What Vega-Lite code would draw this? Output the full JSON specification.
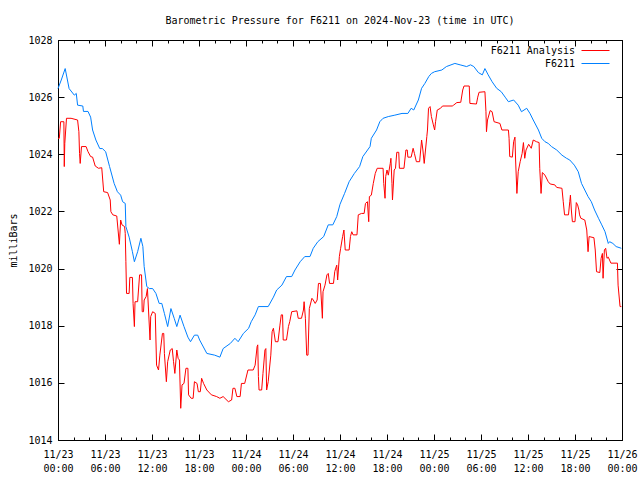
{
  "$schema": "https://vega.github.io/schema/vega-lite/v6.json",
  "width": 564,
  "height": 400,
  "autosize": "none",
  "padding": {"left": 58, "top": 40, "right": 18, "bottom": 40},
  "background": "white",
  "title": {"text": "Barometric Pressure for F6211 on 2024-Nov-23 (time in UTC)", "font": "DejaVu Sans Mono", "fontSize": 10, "fontWeight": "normal", "color": "black", "anchor": "middle", "offset": 9},
  "config": {
    "view": {"stroke": "black", "strokeWidth": 1},
    "axis": {"labelFont": "DejaVu Sans Mono", "labelFontSize": 10, "labelColor": "black", "titleFont": "DejaVu Sans Mono", "titleFontSize": 10, "titleFontWeight": "normal", "titleColor": "black", "domainColor": "black", "tickColor": "black", "grid": false},
    "legend": {"labelFont": "DejaVu Sans Mono", "labelFontSize": 10, "labelColor": "black"}
  },
  "datasets": {
    "d": [
      {"t": "2024-11-23T00:00Z", "v": 1026.3, "s": "F6211"},
      {"t": "2024-11-23T00:25Z", "v": 1026.6, "s": "F6211"},
      {"t": "2024-11-23T00:55Z", "v": 1027.0, "s": "F6211"},
      {"t": "2024-11-23T01:25Z", "v": 1026.3, "s": "F6211"},
      {"t": "2024-11-23T02:05Z", "v": 1026.07, "s": "F6211"},
      {"t": "2024-11-23T02:20Z", "v": 1026.13, "s": "F6211"},
      {"t": "2024-11-23T02:30Z", "v": 1025.72, "s": "F6211"},
      {"t": "2024-11-23T03:10Z", "v": 1025.69, "s": "F6211"},
      {"t": "2024-11-23T03:15Z", "v": 1025.5, "s": "F6211"},
      {"t": "2024-11-23T03:50Z", "v": 1025.5, "s": "F6211"},
      {"t": "2024-11-23T04:10Z", "v": 1025.3, "s": "F6211"},
      {"t": "2024-11-23T04:25Z", "v": 1024.85, "s": "F6211"},
      {"t": "2024-11-23T04:50Z", "v": 1024.5, "s": "F6211"},
      {"t": "2024-11-23T05:20Z", "v": 1024.2, "s": "F6211"},
      {"t": "2024-11-23T05:40Z", "v": 1024.2, "s": "F6211"},
      {"t": "2024-11-23T06:05Z", "v": 1024.09, "s": "F6211"},
      {"t": "2024-11-23T06:35Z", "v": 1023.57, "s": "F6211"},
      {"t": "2024-11-23T07:10Z", "v": 1022.98, "s": "F6211"},
      {"t": "2024-11-23T07:35Z", "v": 1022.69, "s": "F6211"},
      {"t": "2024-11-23T08:00Z", "v": 1022.57, "s": "F6211"},
      {"t": "2024-11-23T08:15Z", "v": 1022.34, "s": "F6211"},
      {"t": "2024-11-23T08:35Z", "v": 1022.28, "s": "F6211"},
      {"t": "2024-11-23T08:40Z", "v": 1021.47, "s": "F6211"},
      {"t": "2024-11-23T09:05Z", "v": 1021.1, "s": "F6211"},
      {"t": "2024-11-23T09:30Z", "v": 1020.59, "s": "F6211"},
      {"t": "2024-11-23T09:45Z", "v": 1020.24, "s": "F6211"},
      {"t": "2024-11-23T10:10Z", "v": 1020.59, "s": "F6211"},
      {"t": "2024-11-23T10:35Z", "v": 1021.06, "s": "F6211"},
      {"t": "2024-11-23T10:50Z", "v": 1020.77, "s": "F6211"},
      {"t": "2024-11-23T11:00Z", "v": 1020.07, "s": "F6211"},
      {"t": "2024-11-23T11:20Z", "v": 1019.37, "s": "F6211"},
      {"t": "2024-11-23T11:40Z", "v": 1019.3, "s": "F6211"},
      {"t": "2024-11-23T12:05Z", "v": 1019.3, "s": "F6211"},
      {"t": "2024-11-23T12:30Z", "v": 1019.13, "s": "F6211"},
      {"t": "2024-11-23T12:55Z", "v": 1018.78, "s": "F6211"},
      {"t": "2024-11-23T13:15Z", "v": 1018.78, "s": "F6211"},
      {"t": "2024-11-23T13:35Z", "v": 1018.43, "s": "F6211"},
      {"t": "2024-11-23T14:00Z", "v": 1017.97, "s": "F6211"},
      {"t": "2024-11-23T14:25Z", "v": 1018.6, "s": "F6211"},
      {"t": "2024-11-23T14:50Z", "v": 1018.26, "s": "F6211"},
      {"t": "2024-11-23T15:10Z", "v": 1017.97, "s": "F6211"},
      {"t": "2024-11-23T15:35Z", "v": 1018.37, "s": "F6211"},
      {"t": "2024-11-23T16:05Z", "v": 1017.97, "s": "F6211"},
      {"t": "2024-11-23T16:35Z", "v": 1017.6, "s": "F6211"},
      {"t": "2024-11-23T16:55Z", "v": 1017.44, "s": "F6211"},
      {"t": "2024-11-23T17:25Z", "v": 1017.67, "s": "F6211"},
      {"t": "2024-11-23T17:50Z", "v": 1017.67, "s": "F6211"},
      {"t": "2024-11-23T18:05Z", "v": 1017.5, "s": "F6211"},
      {"t": "2024-11-23T19:00Z", "v": 1017.03, "s": "F6211"},
      {"t": "2024-11-23T20:00Z", "v": 1016.97, "s": "F6211"},
      {"t": "2024-11-23T20:40Z", "v": 1016.9, "s": "F6211"},
      {"t": "2024-11-23T21:05Z", "v": 1017.2, "s": "F6211"},
      {"t": "2024-11-23T22:00Z", "v": 1017.38, "s": "F6211"},
      {"t": "2024-11-23T22:35Z", "v": 1017.56, "s": "F6211"},
      {"t": "2024-11-23T23:00Z", "v": 1017.44, "s": "F6211"},
      {"t": "2024-11-23T23:40Z", "v": 1017.73, "s": "F6211"},
      {"t": "2024-11-24T00:20Z", "v": 1017.91, "s": "F6211"},
      {"t": "2024-11-24T00:40Z", "v": 1018.14, "s": "F6211"},
      {"t": "2024-11-24T01:10Z", "v": 1018.38, "s": "F6211"},
      {"t": "2024-11-24T01:35Z", "v": 1018.67, "s": "F6211"},
      {"t": "2024-11-24T02:50Z", "v": 1018.67, "s": "F6211"},
      {"t": "2024-11-24T03:30Z", "v": 1019.0, "s": "F6211"},
      {"t": "2024-11-24T03:55Z", "v": 1019.25, "s": "F6211"},
      {"t": "2024-11-24T04:35Z", "v": 1019.42, "s": "F6211"},
      {"t": "2024-11-24T05:10Z", "v": 1019.72, "s": "F6211"},
      {"t": "2024-11-24T05:50Z", "v": 1019.72, "s": "F6211"},
      {"t": "2024-11-24T06:15Z", "v": 1019.95, "s": "F6211"},
      {"t": "2024-11-24T06:55Z", "v": 1020.24, "s": "F6211"},
      {"t": "2024-11-24T07:30Z", "v": 1020.42, "s": "F6211"},
      {"t": "2024-11-24T08:10Z", "v": 1020.42, "s": "F6211"},
      {"t": "2024-11-24T08:35Z", "v": 1020.71, "s": "F6211"},
      {"t": "2024-11-24T09:10Z", "v": 1020.94, "s": "F6211"},
      {"t": "2024-11-24T09:55Z", "v": 1021.12, "s": "F6211"},
      {"t": "2024-11-24T10:30Z", "v": 1021.53, "s": "F6211"},
      {"t": "2024-11-24T11:05Z", "v": 1021.53, "s": "F6211"},
      {"t": "2024-11-24T11:35Z", "v": 1021.82, "s": "F6211"},
      {"t": "2024-11-24T12:00Z", "v": 1022.25, "s": "F6211"},
      {"t": "2024-11-24T12:35Z", "v": 1022.63, "s": "F6211"},
      {"t": "2024-11-24T13:10Z", "v": 1023.04, "s": "F6211"},
      {"t": "2024-11-24T13:50Z", "v": 1023.33, "s": "F6211"},
      {"t": "2024-11-24T14:30Z", "v": 1023.57, "s": "F6211"},
      {"t": "2024-11-24T14:55Z", "v": 1023.92, "s": "F6211"},
      {"t": "2024-11-24T15:50Z", "v": 1024.27, "s": "F6211"},
      {"t": "2024-11-24T16:00Z", "v": 1024.56, "s": "F6211"},
      {"t": "2024-11-24T16:40Z", "v": 1024.85, "s": "F6211"},
      {"t": "2024-11-24T17:05Z", "v": 1025.14, "s": "F6211"},
      {"t": "2024-11-24T17:30Z", "v": 1025.26, "s": "F6211"},
      {"t": "2024-11-24T18:10Z", "v": 1025.32, "s": "F6211"},
      {"t": "2024-11-24T19:00Z", "v": 1025.37, "s": "F6211"},
      {"t": "2024-11-24T19:55Z", "v": 1025.43, "s": "F6211"},
      {"t": "2024-11-24T20:40Z", "v": 1025.43, "s": "F6211"},
      {"t": "2024-11-24T21:05Z", "v": 1025.61, "s": "F6211"},
      {"t": "2024-11-24T21:25Z", "v": 1025.55, "s": "F6211"},
      {"t": "2024-11-24T22:00Z", "v": 1025.9, "s": "F6211"},
      {"t": "2024-11-24T22:25Z", "v": 1026.31, "s": "F6211"},
      {"t": "2024-11-24T22:50Z", "v": 1026.48, "s": "F6211"},
      {"t": "2024-11-24T23:20Z", "v": 1026.72, "s": "F6211"},
      {"t": "2024-11-24T23:40Z", "v": 1026.83, "s": "F6211"},
      {"t": "2024-11-25T00:05Z", "v": 1026.89, "s": "F6211"},
      {"t": "2024-11-25T01:00Z", "v": 1026.95, "s": "F6211"},
      {"t": "2024-11-25T01:35Z", "v": 1027.07, "s": "F6211"},
      {"t": "2024-11-25T02:40Z", "v": 1027.18, "s": "F6211"},
      {"t": "2024-11-25T03:20Z", "v": 1027.13, "s": "F6211"},
      {"t": "2024-11-25T04:10Z", "v": 1027.07, "s": "F6211"},
      {"t": "2024-11-25T04:40Z", "v": 1027.13, "s": "F6211"},
      {"t": "2024-11-25T05:05Z", "v": 1027.07, "s": "F6211"},
      {"t": "2024-11-25T05:40Z", "v": 1026.86, "s": "F6211"},
      {"t": "2024-11-25T06:10Z", "v": 1026.78, "s": "F6211"},
      {"t": "2024-11-25T06:30Z", "v": 1027.0, "s": "F6211"},
      {"t": "2024-11-25T06:55Z", "v": 1026.78, "s": "F6211"},
      {"t": "2024-11-25T07:25Z", "v": 1026.54, "s": "F6211"},
      {"t": "2024-11-25T08:00Z", "v": 1026.31, "s": "F6211"},
      {"t": "2024-11-25T08:35Z", "v": 1026.19, "s": "F6211"},
      {"t": "2024-11-25T09:05Z", "v": 1026.0, "s": "F6211"},
      {"t": "2024-11-25T09:30Z", "v": 1025.84, "s": "F6211"},
      {"t": "2024-11-25T10:10Z", "v": 1025.9, "s": "F6211"},
      {"t": "2024-11-25T10:45Z", "v": 1025.72, "s": "F6211"},
      {"t": "2024-11-25T11:10Z", "v": 1025.49, "s": "F6211"},
      {"t": "2024-11-25T11:50Z", "v": 1025.61, "s": "F6211"},
      {"t": "2024-11-25T12:15Z", "v": 1025.43, "s": "F6211"},
      {"t": "2024-11-25T12:40Z", "v": 1025.2, "s": "F6211"},
      {"t": "2024-11-25T13:20Z", "v": 1024.85, "s": "F6211"},
      {"t": "2024-11-25T13:45Z", "v": 1024.56, "s": "F6211"},
      {"t": "2024-11-25T14:10Z", "v": 1024.44, "s": "F6211"},
      {"t": "2024-11-25T14:35Z", "v": 1024.38, "s": "F6211"},
      {"t": "2024-11-25T15:00Z", "v": 1024.27, "s": "F6211"},
      {"t": "2024-11-25T15:40Z", "v": 1024.15, "s": "F6211"},
      {"t": "2024-11-25T16:20Z", "v": 1023.97, "s": "F6211"},
      {"t": "2024-11-25T16:55Z", "v": 1023.86, "s": "F6211"},
      {"t": "2024-11-25T17:20Z", "v": 1023.8, "s": "F6211"},
      {"t": "2024-11-25T17:55Z", "v": 1023.62, "s": "F6211"},
      {"t": "2024-11-25T18:25Z", "v": 1023.39, "s": "F6211"},
      {"t": "2024-11-25T18:50Z", "v": 1022.98, "s": "F6211"},
      {"t": "2024-11-25T19:15Z", "v": 1022.75, "s": "F6211"},
      {"t": "2024-11-25T19:40Z", "v": 1022.52, "s": "F6211"},
      {"t": "2024-11-25T20:05Z", "v": 1022.34, "s": "F6211"},
      {"t": "2024-11-25T20:30Z", "v": 1022.05, "s": "F6211"},
      {"t": "2024-11-25T21:00Z", "v": 1021.76, "s": "F6211"},
      {"t": "2024-11-25T21:25Z", "v": 1021.53, "s": "F6211"},
      {"t": "2024-11-25T21:50Z", "v": 1021.29, "s": "F6211"},
      {"t": "2024-11-25T22:15Z", "v": 1020.88, "s": "F6211"},
      {"t": "2024-11-25T22:25Z", "v": 1020.94, "s": "F6211"},
      {"t": "2024-11-25T22:50Z", "v": 1020.88, "s": "F6211"},
      {"t": "2024-11-25T23:15Z", "v": 1020.77, "s": "F6211"},
      {"t": "2024-11-25T23:55Z", "v": 1020.71, "s": "F6211"},
      {"t": "2024-11-23T00:00Z", "v": 1024.56, "s": "F6211 Analysis"},
      {"t": "2024-11-23T00:10Z", "v": 1024.56, "s": "F6211 Analysis"},
      {"t": "2024-11-23T00:20Z", "v": 1025.14, "s": "F6211 Analysis"},
      {"t": "2024-11-23T00:45Z", "v": 1025.14, "s": "F6211 Analysis"},
      {"t": "2024-11-23T00:48Z", "v": 1023.57, "s": "F6211 Analysis"},
      {"t": "2024-11-23T00:52Z", "v": 1024.38, "s": "F6211 Analysis"},
      {"t": "2024-11-23T01:05Z", "v": 1025.26, "s": "F6211 Analysis"},
      {"t": "2024-11-23T01:40Z", "v": 1025.26, "s": "F6211 Analysis"},
      {"t": "2024-11-23T02:30Z", "v": 1025.2, "s": "F6211 Analysis"},
      {"t": "2024-11-23T02:40Z", "v": 1024.79, "s": "F6211 Analysis"},
      {"t": "2024-11-23T02:45Z", "v": 1024.03, "s": "F6211 Analysis"},
      {"t": "2024-11-23T02:50Z", "v": 1023.68, "s": "F6211 Analysis"},
      {"t": "2024-11-23T03:00Z", "v": 1024.27, "s": "F6211 Analysis"},
      {"t": "2024-11-23T03:35Z", "v": 1024.27, "s": "F6211 Analysis"},
      {"t": "2024-11-23T03:50Z", "v": 1024.09, "s": "F6211 Analysis"},
      {"t": "2024-11-23T04:10Z", "v": 1023.92, "s": "F6211 Analysis"},
      {"t": "2024-11-23T04:25Z", "v": 1023.9, "s": "F6211 Analysis"},
      {"t": "2024-11-23T04:45Z", "v": 1023.59, "s": "F6211 Analysis"},
      {"t": "2024-11-23T05:10Z", "v": 1023.51, "s": "F6211 Analysis"},
      {"t": "2024-11-23T05:35Z", "v": 1023.53, "s": "F6211 Analysis"},
      {"t": "2024-11-23T05:50Z", "v": 1022.69, "s": "F6211 Analysis"},
      {"t": "2024-11-23T06:20Z", "v": 1022.66, "s": "F6211 Analysis"},
      {"t": "2024-11-23T06:40Z", "v": 1022.4, "s": "F6211 Analysis"},
      {"t": "2024-11-23T06:45Z", "v": 1021.99, "s": "F6211 Analysis"},
      {"t": "2024-11-23T07:00Z", "v": 1021.88, "s": "F6211 Analysis"},
      {"t": "2024-11-23T07:30Z", "v": 1021.84, "s": "F6211 Analysis"},
      {"t": "2024-11-23T07:40Z", "v": 1021.35, "s": "F6211 Analysis"},
      {"t": "2024-11-23T07:50Z", "v": 1020.85, "s": "F6211 Analysis"},
      {"t": "2024-11-23T08:00Z", "v": 1021.7, "s": "F6211 Analysis"},
      {"t": "2024-11-23T08:10Z", "v": 1021.53, "s": "F6211 Analysis"},
      {"t": "2024-11-23T08:30Z", "v": 1021.47, "s": "F6211 Analysis"},
      {"t": "2024-11-23T08:35Z", "v": 1021.23, "s": "F6211 Analysis"},
      {"t": "2024-11-23T08:40Z", "v": 1020.24, "s": "F6211 Analysis"},
      {"t": "2024-11-23T08:45Z", "v": 1019.13, "s": "F6211 Analysis"},
      {"t": "2024-11-23T09:05Z", "v": 1019.13, "s": "F6211 Analysis"},
      {"t": "2024-11-23T09:10Z", "v": 1019.69, "s": "F6211 Analysis"},
      {"t": "2024-11-23T09:30Z", "v": 1019.69, "s": "F6211 Analysis"},
      {"t": "2024-11-23T09:35Z", "v": 1018.78, "s": "F6211 Analysis"},
      {"t": "2024-11-23T09:45Z", "v": 1017.97, "s": "F6211 Analysis"},
      {"t": "2024-11-23T09:50Z", "v": 1018.84, "s": "F6211 Analysis"},
      {"t": "2024-11-23T10:10Z", "v": 1018.84, "s": "F6211 Analysis"},
      {"t": "2024-11-23T10:25Z", "v": 1019.78, "s": "F6211 Analysis"},
      {"t": "2024-11-23T10:40Z", "v": 1019.78, "s": "F6211 Analysis"},
      {"t": "2024-11-23T10:45Z", "v": 1018.49, "s": "F6211 Analysis"},
      {"t": "2024-11-23T10:55Z", "v": 1018.49, "s": "F6211 Analysis"},
      {"t": "2024-11-23T11:00Z", "v": 1018.9, "s": "F6211 Analysis"},
      {"t": "2024-11-23T11:15Z", "v": 1019.02, "s": "F6211 Analysis"},
      {"t": "2024-11-23T11:25Z", "v": 1019.3, "s": "F6211 Analysis"},
      {"t": "2024-11-23T11:45Z", "v": 1017.5, "s": "F6211 Analysis"},
      {"t": "2024-11-23T11:50Z", "v": 1018.32, "s": "F6211 Analysis"},
      {"t": "2024-11-23T12:05Z", "v": 1018.49, "s": "F6211 Analysis"},
      {"t": "2024-11-23T12:25Z", "v": 1018.43, "s": "F6211 Analysis"},
      {"t": "2024-11-23T12:35Z", "v": 1016.62, "s": "F6211 Analysis"},
      {"t": "2024-11-23T12:50Z", "v": 1016.45, "s": "F6211 Analysis"},
      {"t": "2024-11-23T13:00Z", "v": 1016.97, "s": "F6211 Analysis"},
      {"t": "2024-11-23T13:20Z", "v": 1017.73, "s": "F6211 Analysis"},
      {"t": "2024-11-23T13:30Z", "v": 1017.73, "s": "F6211 Analysis"},
      {"t": "2024-11-23T13:35Z", "v": 1017.03, "s": "F6211 Analysis"},
      {"t": "2024-11-23T13:50Z", "v": 1016.04, "s": "F6211 Analysis"},
      {"t": "2024-11-23T14:00Z", "v": 1016.74, "s": "F6211 Analysis"},
      {"t": "2024-11-23T14:20Z", "v": 1017.15, "s": "F6211 Analysis"},
      {"t": "2024-11-23T14:35Z", "v": 1017.2, "s": "F6211 Analysis"},
      {"t": "2024-11-23T14:45Z", "v": 1016.74, "s": "F6211 Analysis"},
      {"t": "2024-11-23T14:55Z", "v": 1016.33, "s": "F6211 Analysis"},
      {"t": "2024-11-23T15:10Z", "v": 1017.15, "s": "F6211 Analysis"},
      {"t": "2024-11-23T15:20Z", "v": 1016.86, "s": "F6211 Analysis"},
      {"t": "2024-11-23T15:30Z", "v": 1016.8, "s": "F6211 Analysis"},
      {"t": "2024-11-23T15:40Z", "v": 1015.11, "s": "F6211 Analysis"},
      {"t": "2024-11-23T15:50Z", "v": 1015.93, "s": "F6211 Analysis"},
      {"t": "2024-11-23T16:05Z", "v": 1015.98, "s": "F6211 Analysis"},
      {"t": "2024-11-23T16:20Z", "v": 1016.51, "s": "F6211 Analysis"},
      {"t": "2024-11-23T16:35Z", "v": 1016.51, "s": "F6211 Analysis"},
      {"t": "2024-11-23T16:40Z", "v": 1015.58, "s": "F6211 Analysis"},
      {"t": "2024-11-23T17:00Z", "v": 1015.46, "s": "F6211 Analysis"},
      {"t": "2024-11-23T17:15Z", "v": 1015.46, "s": "F6211 Analysis"},
      {"t": "2024-11-23T17:25Z", "v": 1016.04, "s": "F6211 Analysis"},
      {"t": "2024-11-23T17:45Z", "v": 1015.98, "s": "F6211 Analysis"},
      {"t": "2024-11-23T17:55Z", "v": 1015.69, "s": "F6211 Analysis"},
      {"t": "2024-11-23T18:10Z", "v": 1015.69, "s": "F6211 Analysis"},
      {"t": "2024-11-23T18:20Z", "v": 1016.16, "s": "F6211 Analysis"},
      {"t": "2024-11-23T18:35Z", "v": 1015.98, "s": "F6211 Analysis"},
      {"t": "2024-11-23T19:00Z", "v": 1015.75, "s": "F6211 Analysis"},
      {"t": "2024-11-23T19:35Z", "v": 1015.58, "s": "F6211 Analysis"},
      {"t": "2024-11-23T20:15Z", "v": 1015.52, "s": "F6211 Analysis"},
      {"t": "2024-11-23T20:40Z", "v": 1015.46, "s": "F6211 Analysis"},
      {"t": "2024-11-23T21:05Z", "v": 1015.52, "s": "F6211 Analysis"},
      {"t": "2024-11-23T21:45Z", "v": 1015.34, "s": "F6211 Analysis"},
      {"t": "2024-11-23T22:10Z", "v": 1015.4, "s": "F6211 Analysis"},
      {"t": "2024-11-23T22:20Z", "v": 1015.81, "s": "F6211 Analysis"},
      {"t": "2024-11-23T22:35Z", "v": 1015.81, "s": "F6211 Analysis"},
      {"t": "2024-11-23T22:50Z", "v": 1015.52, "s": "F6211 Analysis"},
      {"t": "2024-11-23T23:15Z", "v": 1015.52, "s": "F6211 Analysis"},
      {"t": "2024-11-23T23:25Z", "v": 1015.98, "s": "F6211 Analysis"},
      {"t": "2024-11-23T23:50Z", "v": 1015.98, "s": "F6211 Analysis"},
      {"t": "2024-11-24T00:15Z", "v": 1016.45, "s": "F6211 Analysis"},
      {"t": "2024-11-24T00:55Z", "v": 1016.45, "s": "F6211 Analysis"},
      {"t": "2024-11-24T01:10Z", "v": 1016.62, "s": "F6211 Analysis"},
      {"t": "2024-11-24T01:25Z", "v": 1017.27, "s": "F6211 Analysis"},
      {"t": "2024-11-24T01:30Z", "v": 1017.33, "s": "F6211 Analysis"},
      {"t": "2024-11-24T01:35Z", "v": 1016.22, "s": "F6211 Analysis"},
      {"t": "2024-11-24T01:40Z", "v": 1015.75, "s": "F6211 Analysis"},
      {"t": "2024-11-24T02:00Z", "v": 1015.75, "s": "F6211 Analysis"},
      {"t": "2024-11-24T02:10Z", "v": 1016.33, "s": "F6211 Analysis"},
      {"t": "2024-11-24T02:25Z", "v": 1017.15, "s": "F6211 Analysis"},
      {"t": "2024-11-24T02:32Z", "v": 1017.2, "s": "F6211 Analysis"},
      {"t": "2024-11-24T02:38Z", "v": 1015.75, "s": "F6211 Analysis"},
      {"t": "2024-11-24T02:50Z", "v": 1016.04, "s": "F6211 Analysis"},
      {"t": "2024-11-24T03:10Z", "v": 1016.97, "s": "F6211 Analysis"},
      {"t": "2024-11-24T03:20Z", "v": 1017.79, "s": "F6211 Analysis"},
      {"t": "2024-11-24T03:30Z", "v": 1017.91, "s": "F6211 Analysis"},
      {"t": "2024-11-24T03:45Z", "v": 1017.44, "s": "F6211 Analysis"},
      {"t": "2024-11-24T04:05Z", "v": 1017.44, "s": "F6211 Analysis"},
      {"t": "2024-11-24T04:20Z", "v": 1018.02, "s": "F6211 Analysis"},
      {"t": "2024-11-24T04:30Z", "v": 1018.38, "s": "F6211 Analysis"},
      {"t": "2024-11-24T04:40Z", "v": 1018.38, "s": "F6211 Analysis"},
      {"t": "2024-11-24T04:45Z", "v": 1017.5, "s": "F6211 Analysis"},
      {"t": "2024-11-24T05:10Z", "v": 1017.5, "s": "F6211 Analysis"},
      {"t": "2024-11-24T05:25Z", "v": 1017.97, "s": "F6211 Analysis"},
      {"t": "2024-11-24T05:35Z", "v": 1018.14, "s": "F6211 Analysis"},
      {"t": "2024-11-24T05:50Z", "v": 1018.49, "s": "F6211 Analysis"},
      {"t": "2024-11-24T06:30Z", "v": 1018.52, "s": "F6211 Analysis"},
      {"t": "2024-11-24T06:40Z", "v": 1018.26, "s": "F6211 Analysis"},
      {"t": "2024-11-24T07:05Z", "v": 1018.26, "s": "F6211 Analysis"},
      {"t": "2024-11-24T07:20Z", "v": 1018.55, "s": "F6211 Analysis"},
      {"t": "2024-11-24T07:25Z", "v": 1018.84, "s": "F6211 Analysis"},
      {"t": "2024-11-24T07:35Z", "v": 1018.26, "s": "F6211 Analysis"},
      {"t": "2024-11-24T07:45Z", "v": 1016.97, "s": "F6211 Analysis"},
      {"t": "2024-11-24T07:55Z", "v": 1016.97, "s": "F6211 Analysis"},
      {"t": "2024-11-24T08:05Z", "v": 1018.6, "s": "F6211 Analysis"},
      {"t": "2024-11-24T08:25Z", "v": 1018.96, "s": "F6211 Analysis"},
      {"t": "2024-11-24T08:35Z", "v": 1018.9, "s": "F6211 Analysis"},
      {"t": "2024-11-24T08:50Z", "v": 1018.78, "s": "F6211 Analysis"},
      {"t": "2024-11-24T09:05Z", "v": 1018.9, "s": "F6211 Analysis"},
      {"t": "2024-11-24T09:15Z", "v": 1019.48, "s": "F6211 Analysis"},
      {"t": "2024-11-24T09:30Z", "v": 1019.48, "s": "F6211 Analysis"},
      {"t": "2024-11-24T09:45Z", "v": 1018.26, "s": "F6211 Analysis"},
      {"t": "2024-11-24T09:50Z", "v": 1019.19, "s": "F6211 Analysis"},
      {"t": "2024-11-24T10:05Z", "v": 1019.42, "s": "F6211 Analysis"},
      {"t": "2024-11-24T10:20Z", "v": 1019.78, "s": "F6211 Analysis"},
      {"t": "2024-11-24T10:30Z", "v": 1019.83, "s": "F6211 Analysis"},
      {"t": "2024-11-24T10:40Z", "v": 1019.48, "s": "F6211 Analysis"},
      {"t": "2024-11-24T11:10Z", "v": 1019.48, "s": "F6211 Analysis"},
      {"t": "2024-11-24T11:20Z", "v": 1019.9, "s": "F6211 Analysis"},
      {"t": "2024-11-24T11:35Z", "v": 1020.12, "s": "F6211 Analysis"},
      {"t": "2024-11-24T11:42Z", "v": 1019.6, "s": "F6211 Analysis"},
      {"t": "2024-11-24T11:55Z", "v": 1020.42, "s": "F6211 Analysis"},
      {"t": "2024-11-24T12:05Z", "v": 1020.71, "s": "F6211 Analysis"},
      {"t": "2024-11-24T12:20Z", "v": 1021.12, "s": "F6211 Analysis"},
      {"t": "2024-11-24T12:30Z", "v": 1021.35, "s": "F6211 Analysis"},
      {"t": "2024-11-24T12:40Z", "v": 1020.65, "s": "F6211 Analysis"},
      {"t": "2024-11-24T13:10Z", "v": 1020.65, "s": "F6211 Analysis"},
      {"t": "2024-11-24T13:20Z", "v": 1021.12, "s": "F6211 Analysis"},
      {"t": "2024-11-24T13:30Z", "v": 1021.29, "s": "F6211 Analysis"},
      {"t": "2024-11-24T13:40Z", "v": 1021.18, "s": "F6211 Analysis"},
      {"t": "2024-11-24T14:10Z", "v": 1021.18, "s": "F6211 Analysis"},
      {"t": "2024-11-24T14:20Z", "v": 1021.88, "s": "F6211 Analysis"},
      {"t": "2024-11-24T14:45Z", "v": 1021.93, "s": "F6211 Analysis"},
      {"t": "2024-11-24T15:05Z", "v": 1021.93, "s": "F6211 Analysis"},
      {"t": "2024-11-24T15:15Z", "v": 1022.28, "s": "F6211 Analysis"},
      {"t": "2024-11-24T15:30Z", "v": 1022.34, "s": "F6211 Analysis"},
      {"t": "2024-11-24T15:40Z", "v": 1021.64, "s": "F6211 Analysis"},
      {"t": "2024-11-24T15:45Z", "v": 1022.52, "s": "F6211 Analysis"},
      {"t": "2024-11-24T16:00Z", "v": 1022.57, "s": "F6211 Analysis"},
      {"t": "2024-11-24T16:15Z", "v": 1022.98, "s": "F6211 Analysis"},
      {"t": "2024-11-24T16:30Z", "v": 1023.33, "s": "F6211 Analysis"},
      {"t": "2024-11-24T16:45Z", "v": 1023.51, "s": "F6211 Analysis"},
      {"t": "2024-11-24T17:30Z", "v": 1023.51, "s": "F6211 Analysis"},
      {"t": "2024-11-24T17:35Z", "v": 1022.98, "s": "F6211 Analysis"},
      {"t": "2024-11-24T17:45Z", "v": 1022.46, "s": "F6211 Analysis"},
      {"t": "2024-11-24T17:50Z", "v": 1023.22, "s": "F6211 Analysis"},
      {"t": "2024-11-24T18:00Z", "v": 1023.45, "s": "F6211 Analysis"},
      {"t": "2024-11-24T18:10Z", "v": 1023.27, "s": "F6211 Analysis"},
      {"t": "2024-11-24T18:25Z", "v": 1023.68, "s": "F6211 Analysis"},
      {"t": "2024-11-24T18:30Z", "v": 1023.86, "s": "F6211 Analysis"},
      {"t": "2024-11-24T18:38Z", "v": 1022.98, "s": "F6211 Analysis"},
      {"t": "2024-11-24T18:42Z", "v": 1022.4, "s": "F6211 Analysis"},
      {"t": "2024-11-24T18:55Z", "v": 1023.45, "s": "F6211 Analysis"},
      {"t": "2024-11-24T19:05Z", "v": 1023.51, "s": "F6211 Analysis"},
      {"t": "2024-11-24T19:15Z", "v": 1024.07, "s": "F6211 Analysis"},
      {"t": "2024-11-24T19:30Z", "v": 1024.07, "s": "F6211 Analysis"},
      {"t": "2024-11-24T19:35Z", "v": 1023.51, "s": "F6211 Analysis"},
      {"t": "2024-11-24T20:10Z", "v": 1023.51, "s": "F6211 Analysis"},
      {"t": "2024-11-24T20:25Z", "v": 1024.15, "s": "F6211 Analysis"},
      {"t": "2024-11-24T20:35Z", "v": 1024.15, "s": "F6211 Analysis"},
      {"t": "2024-11-24T20:40Z", "v": 1023.9, "s": "F6211 Analysis"},
      {"t": "2024-11-24T21:05Z", "v": 1023.9, "s": "F6211 Analysis"},
      {"t": "2024-11-24T21:20Z", "v": 1024.21, "s": "F6211 Analysis"},
      {"t": "2024-11-24T21:30Z", "v": 1024.03, "s": "F6211 Analysis"},
      {"t": "2024-11-24T21:45Z", "v": 1023.74, "s": "F6211 Analysis"},
      {"t": "2024-11-24T22:10Z", "v": 1023.74, "s": "F6211 Analysis"},
      {"t": "2024-11-24T22:25Z", "v": 1024.5, "s": "F6211 Analysis"},
      {"t": "2024-11-24T22:35Z", "v": 1024.15, "s": "F6211 Analysis"},
      {"t": "2024-11-24T22:45Z", "v": 1023.68, "s": "F6211 Analysis"},
      {"t": "2024-11-24T22:55Z", "v": 1024.15, "s": "F6211 Analysis"},
      {"t": "2024-11-24T23:05Z", "v": 1024.62, "s": "F6211 Analysis"},
      {"t": "2024-11-24T23:10Z", "v": 1024.85, "s": "F6211 Analysis"},
      {"t": "2024-11-24T23:18Z", "v": 1025.61, "s": "F6211 Analysis"},
      {"t": "2024-11-24T23:30Z", "v": 1025.67, "s": "F6211 Analysis"},
      {"t": "2024-11-24T23:40Z", "v": 1025.32, "s": "F6211 Analysis"},
      {"t": "2024-11-24T23:55Z", "v": 1025.03, "s": "F6211 Analysis"},
      {"t": "2024-11-25T00:05Z", "v": 1024.85, "s": "F6211 Analysis"},
      {"t": "2024-11-25T00:12Z", "v": 1025.14, "s": "F6211 Analysis"},
      {"t": "2024-11-25T00:25Z", "v": 1025.55, "s": "F6211 Analysis"},
      {"t": "2024-11-25T00:50Z", "v": 1025.61, "s": "F6211 Analysis"},
      {"t": "2024-11-25T01:05Z", "v": 1025.69, "s": "F6211 Analysis"},
      {"t": "2024-11-25T02:20Z", "v": 1025.69, "s": "F6211 Analysis"},
      {"t": "2024-11-25T02:30Z", "v": 1025.72, "s": "F6211 Analysis"},
      {"t": "2024-11-25T02:55Z", "v": 1025.81, "s": "F6211 Analysis"},
      {"t": "2024-11-25T03:25Z", "v": 1025.82, "s": "F6211 Analysis"},
      {"t": "2024-11-25T03:40Z", "v": 1026.25, "s": "F6211 Analysis"},
      {"t": "2024-11-25T03:50Z", "v": 1026.39, "s": "F6211 Analysis"},
      {"t": "2024-11-25T04:30Z", "v": 1026.39, "s": "F6211 Analysis"},
      {"t": "2024-11-25T04:35Z", "v": 1025.78, "s": "F6211 Analysis"},
      {"t": "2024-11-25T05:25Z", "v": 1025.76, "s": "F6211 Analysis"},
      {"t": "2024-11-25T05:35Z", "v": 1026.0, "s": "F6211 Analysis"},
      {"t": "2024-11-25T05:45Z", "v": 1026.17, "s": "F6211 Analysis"},
      {"t": "2024-11-25T06:30Z", "v": 1026.19, "s": "F6211 Analysis"},
      {"t": "2024-11-25T06:38Z", "v": 1025.49, "s": "F6211 Analysis"},
      {"t": "2024-11-25T06:42Z", "v": 1024.79, "s": "F6211 Analysis"},
      {"t": "2024-11-25T06:50Z", "v": 1025.2, "s": "F6211 Analysis"},
      {"t": "2024-11-25T07:10Z", "v": 1025.53, "s": "F6211 Analysis"},
      {"t": "2024-11-25T07:25Z", "v": 1025.49, "s": "F6211 Analysis"},
      {"t": "2024-11-25T07:40Z", "v": 1025.14, "s": "F6211 Analysis"},
      {"t": "2024-11-25T08:25Z", "v": 1025.08, "s": "F6211 Analysis"},
      {"t": "2024-11-25T08:40Z", "v": 1024.85, "s": "F6211 Analysis"},
      {"t": "2024-11-25T09:30Z", "v": 1024.85, "s": "F6211 Analysis"},
      {"t": "2024-11-25T09:35Z", "v": 1024.56, "s": "F6211 Analysis"},
      {"t": "2024-11-25T09:40Z", "v": 1023.92, "s": "F6211 Analysis"},
      {"t": "2024-11-25T10:00Z", "v": 1023.9, "s": "F6211 Analysis"},
      {"t": "2024-11-25T10:10Z", "v": 1024.44, "s": "F6211 Analysis"},
      {"t": "2024-11-25T10:20Z", "v": 1024.6, "s": "F6211 Analysis"},
      {"t": "2024-11-25T10:25Z", "v": 1023.8, "s": "F6211 Analysis"},
      {"t": "2024-11-25T10:35Z", "v": 1022.63, "s": "F6211 Analysis"},
      {"t": "2024-11-25T10:45Z", "v": 1023.39, "s": "F6211 Analysis"},
      {"t": "2024-11-25T11:00Z", "v": 1023.74, "s": "F6211 Analysis"},
      {"t": "2024-11-25T11:15Z", "v": 1024.03, "s": "F6211 Analysis"},
      {"t": "2024-11-25T11:25Z", "v": 1024.41, "s": "F6211 Analysis"},
      {"t": "2024-11-25T11:35Z", "v": 1023.86, "s": "F6211 Analysis"},
      {"t": "2024-11-25T11:45Z", "v": 1024.15, "s": "F6211 Analysis"},
      {"t": "2024-11-25T12:05Z", "v": 1024.35, "s": "F6211 Analysis"},
      {"t": "2024-11-25T12:25Z", "v": 1024.21, "s": "F6211 Analysis"},
      {"t": "2024-11-25T12:40Z", "v": 1024.5, "s": "F6211 Analysis"},
      {"t": "2024-11-25T13:05Z", "v": 1024.44, "s": "F6211 Analysis"},
      {"t": "2024-11-25T13:25Z", "v": 1024.41, "s": "F6211 Analysis"},
      {"t": "2024-11-25T13:30Z", "v": 1023.51, "s": "F6211 Analysis"},
      {"t": "2024-11-25T13:40Z", "v": 1022.63, "s": "F6211 Analysis"},
      {"t": "2024-11-25T13:50Z", "v": 1023.36, "s": "F6211 Analysis"},
      {"t": "2024-11-25T14:10Z", "v": 1023.27, "s": "F6211 Analysis"},
      {"t": "2024-11-25T14:35Z", "v": 1023.04, "s": "F6211 Analysis"},
      {"t": "2024-11-25T14:50Z", "v": 1022.96, "s": "F6211 Analysis"},
      {"t": "2024-11-25T15:25Z", "v": 1022.93, "s": "F6211 Analysis"},
      {"t": "2024-11-25T15:40Z", "v": 1022.84, "s": "F6211 Analysis"},
      {"t": "2024-11-25T16:20Z", "v": 1022.81, "s": "F6211 Analysis"},
      {"t": "2024-11-25T16:30Z", "v": 1022.34, "s": "F6211 Analysis"},
      {"t": "2024-11-25T16:40Z", "v": 1021.88, "s": "F6211 Analysis"},
      {"t": "2024-11-25T17:10Z", "v": 1021.88, "s": "F6211 Analysis"},
      {"t": "2024-11-25T17:20Z", "v": 1022.34, "s": "F6211 Analysis"},
      {"t": "2024-11-25T17:25Z", "v": 1022.57, "s": "F6211 Analysis"},
      {"t": "2024-11-25T17:32Z", "v": 1022.05, "s": "F6211 Analysis"},
      {"t": "2024-11-25T17:40Z", "v": 1021.64, "s": "F6211 Analysis"},
      {"t": "2024-11-25T18:00Z", "v": 1021.64, "s": "F6211 Analysis"},
      {"t": "2024-11-25T18:10Z", "v": 1022.31, "s": "F6211 Analysis"},
      {"t": "2024-11-25T18:20Z", "v": 1022.23, "s": "F6211 Analysis"},
      {"t": "2024-11-25T18:30Z", "v": 1022.05, "s": "F6211 Analysis"},
      {"t": "2024-11-25T18:35Z", "v": 1021.88, "s": "F6211 Analysis"},
      {"t": "2024-11-25T18:45Z", "v": 1021.76, "s": "F6211 Analysis"},
      {"t": "2024-11-25T19:15Z", "v": 1021.7, "s": "F6211 Analysis"},
      {"t": "2024-11-25T19:30Z", "v": 1021.35, "s": "F6211 Analysis"},
      {"t": "2024-11-25T19:40Z", "v": 1020.59, "s": "F6211 Analysis"},
      {"t": "2024-11-25T19:48Z", "v": 1021.12, "s": "F6211 Analysis"},
      {"t": "2024-11-25T20:25Z", "v": 1021.08, "s": "F6211 Analysis"},
      {"t": "2024-11-25T20:35Z", "v": 1020.65, "s": "F6211 Analysis"},
      {"t": "2024-11-25T20:45Z", "v": 1019.89, "s": "F6211 Analysis"},
      {"t": "2024-11-25T21:10Z", "v": 1019.86, "s": "F6211 Analysis"},
      {"t": "2024-11-25T21:20Z", "v": 1020.36, "s": "F6211 Analysis"},
      {"t": "2024-11-25T21:30Z", "v": 1020.53, "s": "F6211 Analysis"},
      {"t": "2024-11-25T21:35Z", "v": 1019.66, "s": "F6211 Analysis"},
      {"t": "2024-11-25T21:45Z", "v": 1020.65, "s": "F6211 Analysis"},
      {"t": "2024-11-25T21:55Z", "v": 1020.71, "s": "F6211 Analysis"},
      {"t": "2024-11-25T22:05Z", "v": 1020.36, "s": "F6211 Analysis"},
      {"t": "2024-11-25T22:15Z", "v": 1020.4, "s": "F6211 Analysis"},
      {"t": "2024-11-25T22:35Z", "v": 1020.19, "s": "F6211 Analysis"},
      {"t": "2024-11-25T23:25Z", "v": 1020.19, "s": "F6211 Analysis"},
      {"t": "2024-11-25T23:30Z", "v": 1019.42, "s": "F6211 Analysis"},
      {"t": "2024-11-25T23:45Z", "v": 1018.67, "s": "F6211 Analysis"},
      {"t": "2024-11-25T23:55Z", "v": 1018.67, "s": "F6211 Analysis"}
    ]
  },
  "data": {"name": "d"},
  "resolve": {"axis": {"x": "independent", "y": "independent"}},
  "layer": [
    {
      "transform": [{"filter": "datum.s === 'F6211 Analysis'"}],
      "mark": {"type": "line", "strokeWidth": 1},
      "encoding": {
        "x": {"field": "t", "type": "temporal",
          "scale": {"type": "utc", "domain": [1732320000000, 1732579200000], "nice": false},
          "axis": {"orient": "bottom", "title": null, "domainWidth": 1, "tickSize": -6,
            "values": [1732320000000, 1732327200000, 1732334400000, 1732341600000, 1732348800000, 1732356000000, 1732363200000, 1732370400000, 1732377600000, 1732384800000, 1732392000000, 1732399200000, 1732406400000, 1732413600000, 1732420800000, 1732428000000, 1732435200000, 1732442400000, 1732449600000, 1732456800000, 1732464000000, 1732471200000, 1732478400000, 1732485600000, 1732492800000, 1732500000000, 1732507200000, 1732514400000, 1732521600000, 1732528800000, 1732536000000, 1732543200000, 1732550400000, 1732557600000, 1732564800000, 1732572000000, 1732579200000],
            "tickDash": {"condition": {"test": "utchours(datum.value) % 6 == 0", "value": [10, 0]}, "value": [3, 10]},
            "labelExpr": "utchours(datum.value) % 6 == 0 ? [utcFormat(datum.value, '%m/%d'), utcFormat(datum.value, '%H:%M')] : ''",
            "labelPadding": 15, "labelLineHeight": 14, "labelOverlap": false, "labelFlush": false}},
        "y": {"field": "v", "type": "quantitative",
          "scale": {"domain": [1014, 1028], "nice": false, "zero": false},
          "axis": {"orient": "left", "title": "milliBars", "format": "d", "values": [1014, 1016, 1018, 1020, 1022, 1024, 1026, 1028], "tickSize": -6, "labelPadding": 12, "titlePadding": 9, "domainWidth": 1}},
        "color": {"field": "s", "type": "nominal",
          "scale": {"domain": ["F6211 Analysis", "F6211"], "range": ["#ff0000", "#0080ff"]},
          "legend": {"title": null, "orient": "none", "legendX": 532, "legendY": 5, "padding": 0, "symbolType": "M-2.8,0H2.8", "symbolSize": 100, "symbolStrokeWidth": 1, "labelAlign": "right", "labelOffset": -26, "rowPadding": 2}}
      }
    },
    {
      "transform": [{"filter": "datum.s === 'F6211'"}],
      "mark": {"type": "line", "strokeWidth": 1},
      "encoding": {
        "x": {"field": "t", "type": "temporal",
          "axis": {"orient": "top", "title": null, "labels": false, "domainWidth": 1, "tickSize": -6,
            "values": [1732320000000, 1732327200000, 1732334400000, 1732341600000, 1732348800000, 1732356000000, 1732363200000, 1732370400000, 1732377600000, 1732384800000, 1732392000000, 1732399200000, 1732406400000, 1732413600000, 1732420800000, 1732428000000, 1732435200000, 1732442400000, 1732449600000, 1732456800000, 1732464000000, 1732471200000, 1732478400000, 1732485600000, 1732492800000, 1732500000000, 1732507200000, 1732514400000, 1732521600000, 1732528800000, 1732536000000, 1732543200000, 1732550400000, 1732557600000, 1732564800000, 1732572000000, 1732579200000],
            "tickDash": {"condition": {"test": "utchours(datum.value) % 6 == 0", "value": [10, 0]}, "value": [3, 10]}}},
        "y": {"field": "v", "type": "quantitative",
          "axis": {"orient": "right", "title": null, "values": [1014, 1016, 1018, 1020, 1022, 1024, 1026, 1028], "labels": false, "tickSize": -6, "domainWidth": 1}},
        "color": {"field": "s", "type": "nominal"}
      }
    }
  ]
}
